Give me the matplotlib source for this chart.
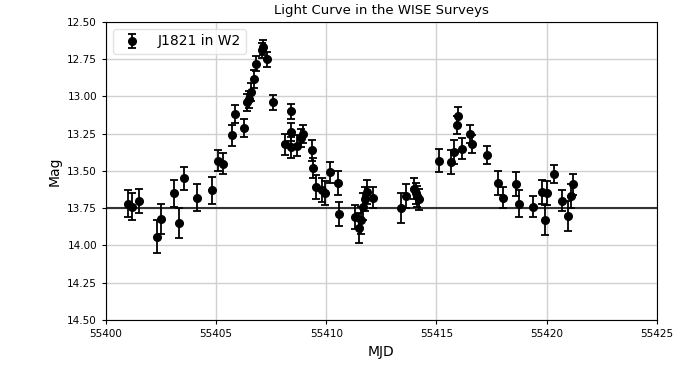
import matplotlib
matplotlib.use("Agg")
import matplotlib.pyplot as plt
import numpy as np

mjd = [55401.00, 55401.16, 55401.50, 55402.30, 55402.48, 55403.10, 55403.33, 55403.54,
       55404.14, 55404.80, 55405.10, 55405.32, 55405.73, 55405.87, 55406.28, 55406.38,
       55406.47, 55406.58, 55406.73, 55406.81, 55407.06, 55407.14, 55407.29, 55407.56,
       55408.12, 55408.38, 55408.40, 55408.42, 55408.68, 55408.83, 55408.95, 55409.33,
       55409.38, 55409.53, 55409.79, 55409.94, 55410.16, 55410.54, 55410.59, 55411.30,
       55411.50, 55411.58, 55411.67, 55411.75, 55411.83, 55412.14, 55413.38, 55413.60,
       55413.97, 55414.05, 55414.12, 55414.20, 55415.12, 55415.68, 55415.80, 55415.91,
       55415.96, 55416.17, 55416.52, 55416.62, 55417.30, 55417.80, 55418.03, 55418.60,
       55418.75, 55419.39, 55419.77, 55419.92, 55420.04, 55420.33, 55420.72, 55420.95,
       55421.10, 55421.22]
mag = [13.72, 13.74, 13.70, 13.94, 13.82, 13.65, 13.85, 13.55,
       13.68, 13.63, 13.43, 13.45, 13.26, 13.12, 13.21, 13.04,
       13.02, 12.97, 12.88, 12.78, 12.69, 12.67, 12.75, 13.04,
       13.32, 13.10, 13.24, 13.34, 13.33, 13.28, 13.25, 13.36,
       13.48, 13.61, 13.63, 13.65, 13.51, 13.58, 13.79, 13.81,
       13.88, 13.83, 13.74, 13.69, 13.64, 13.68, 13.75, 13.67,
       13.62, 13.65, 13.67, 13.69, 13.43, 13.44, 13.37, 13.19,
       13.13, 13.35, 13.25, 13.32, 13.39, 13.58, 13.68, 13.59,
       13.72, 13.74, 13.64, 13.83, 13.65, 13.52, 13.70, 13.80,
       13.67, 13.59]
err = [0.09, 0.09, 0.08, 0.11, 0.10, 0.09, 0.10, 0.08,
       0.09, 0.09, 0.07, 0.07, 0.07, 0.06, 0.06, 0.06,
       0.06, 0.06, 0.06, 0.05, 0.05, 0.05, 0.05, 0.05,
       0.07, 0.05, 0.06, 0.07, 0.07, 0.06, 0.06, 0.07,
       0.07, 0.08, 0.08, 0.08, 0.07, 0.08, 0.08, 0.08,
       0.10, 0.09, 0.09, 0.08, 0.08, 0.07, 0.10, 0.08,
       0.07, 0.07, 0.07, 0.07, 0.08, 0.08, 0.08, 0.06,
       0.06, 0.07, 0.06, 0.06, 0.06, 0.08, 0.07, 0.08,
       0.09, 0.07, 0.08, 0.10, 0.08, 0.06, 0.07, 0.10,
       0.08, 0.07]
ref_mag = 13.75
xticks = [55400, 55405, 55410, 55415, 55420, 55425]
yticks = [12.50, 12.75, 13.00, 13.25, 13.50, 13.75, 14.00, 14.25, 14.50]

fig = plt.figure(figsize=(6.99, 3.88), dpi=100)
ax = fig.add_axes([0.1516, 0.1753, 0.7880, 0.7680])

ax.grid(True, color="#d0d0d0", linewidth=1.0, zorder=0)
ax.axhline(ref_mag, color="#333333", linewidth=1.5, zorder=2)
ax.errorbar(mjd, mag, yerr=err, fmt="o", color="black", markersize=5.5,
            capsize=3, elinewidth=1.3, capthick=1.3, label="J1821 in W2", zorder=3)

ax.set_xlim(55400, 55425)
ax.set_ylim(14.5, 12.5)
ax.set_xticks(xticks)
ax.set_xticklabels([str(t) for t in xticks])
ax.set_yticks(yticks)
ax.set_yticklabels([f"{t:.2f}" for t in yticks])
ax.tick_params(labelsize=7.5, length=3)
ax.set_xlabel("MJD", fontsize=10)
ax.set_ylabel("Mag", fontsize=10)
ax.set_title("Light Curve in the WISE Surveys", fontsize=9.5)
ax.legend(loc="upper left", fontsize=10, framealpha=0.8, edgecolor="#dddddd")

fig.savefig("out.png", dpi=100)
